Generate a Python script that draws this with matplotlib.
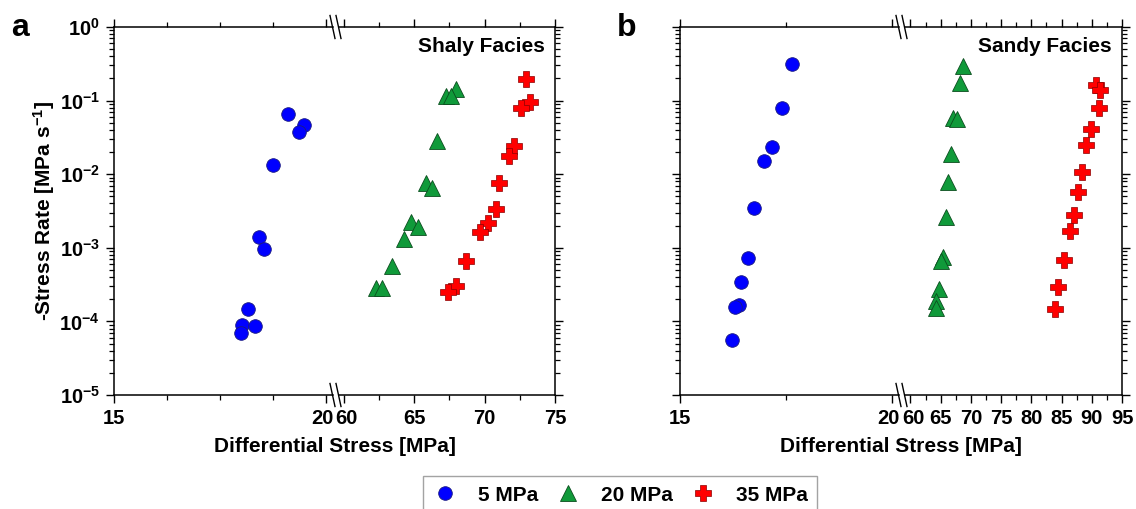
import matplotlib
matplotlib.use('Agg')
import matplotlib.pyplot as plt
from matplotlib.lines import Line2D
from matplotlib.ticker import LogLocator, NullFormatter, FuncFormatter
from matplotlib.transforms import ScaledTranslation
import numpy as np

plt.rcParams['font.family'] = ['Liberation Sans', 'DejaVu Sans']
plt.rcParams['font.weight'] = 'bold'
plt.rcParams['mathtext.fontset'] = 'custom'
plt.rcParams['mathtext.rm'] = 'Liberation Sans:bold'
plt.rcParams['mathtext.bf'] = 'Liberation Sans:bold'
plt.rcParams['mathtext.default'] = 'bf'

##------------------------------------------------------##
# values
# panel a : shaly facies
shaly_5_x = [19.11, 19.48, 19.37, 18.74, 18.42, 18.54, 18.17, 18.01, 18.32, 17.99]
shaly_5_y = [0.066, 0.047, 0.037, 0.0133, 0.00142, 0.00097, 1.46e-4, 8.9e-5, 8.7e-5, 6.9e-5]
shaly_20_x = [67.96, 67.30, 67.65, 66.63, 65.88, 66.30, 64.81, 65.31, 64.26, 63.41, 62.32, 62.75]
shaly_20_y = [0.142, 0.1155, 0.1155, 0.0285, 0.0077, 0.0065, 0.00224, 0.00194, 0.0013,
              5.7e-4, 2.87e-4, 2.87e-4]
shaly_35_x = [72.94, 73.22, 72.56, 72.11, 71.75, 71.0, 70.85, 70.28, 69.67, 68.72, 68.01, 67.44]
shaly_35_y = [0.195, 0.097, 0.079, 0.0244, 0.0177, 0.0075, 0.00333, 0.00215, 0.00166,
              6.6e-4, 3.06e-4, 2.48e-4]

# panel b : sandy facies
sandy_5_x = [17.65, 17.41, 17.17, 16.98, 16.74, 16.60, 16.45, 16.39, 16.29, 16.22]
sandy_5_y = [0.314, 0.079, 0.0236, 0.0153, 0.0035, 7.2e-4, 3.47e-4, 1.67e-4, 1.58e-4, 5.6e-5]
sandy_20_x = [68.70, 68.27, 67.05, 67.71, 66.67, 66.28, 65.84, 65.40, 65.13, 64.74, 64.18, 64.30]
sandy_20_y = [0.295, 0.175, 0.0574, 0.0556, 0.0188, 0.0079, 0.00265, 7.4e-4, 6.7e-4,
              2.73e-4, 1.91e-4, 1.51e-4]
sandy_35_x = [90.76, 91.42, 91.14, 89.81, 88.99, 88.44, 87.72, 87.0, 86.34, 85.35, 84.48, 83.92]
sandy_35_y = [0.163, 0.139, 0.0786, 0.0407, 0.0247, 0.0108, 0.00573, 0.00276, 0.00169,
              6.8e-4, 2.9e-4, 1.46e-4]

labels = ['5 MPa', '20 MPa', '35 MPa']

# marker styles per confining pressure
sty5 = dict(marker='o', ms=9.8, mfc='#0000ff', mec='#1a1a80', mew=0.6, ls='none')
sty20 = dict(marker='^', ms=11.5, mfc='#109a3a', mec='#0b4d1e', mew=0.6, ls='none')
sty35 = dict(marker='P', ms=11.5, mfc='#ff0000', mec='#8a0000', mew=0.5, ls='none')

W, H = 1136, 509
TOP, BOT = 27, 395
FS_TICK = 14.5
FS_LAB = 15


def fx(px):
    return px / W


def fy(py):
    return 1 - py / H


def decade(v, pos):
    return r'$10^{%d}$' % int(round(np.log10(v)))


def fig_line(fig, xs, ys, lw=1.1):
    fig.add_artist(Line2D([fx(x) for x in xs], [fy(y) for y in ys],
                          transform=fig.transFigure, color='black', lw=lw))


def shift_label(fig, tick, dx_px):
    lab = tick.label1
    lab.set_transform(lab.get_transform() + ScaledTranslation(dx_px / 100, 0, fig.dpi_scale_trans))


def make_panel(fig, x0, x1, rmax, lminor, d5, d20, d35, title, letter, lx, ylab):
    h = (BOT - TOP) / H
    ax_l = fig.add_axes([fx(x0), fy(BOT), 212 / W, h])
    ax_r = fig.add_axes([fx(x1 - 211.5), fy(BOT), 211.5 / W, h])

    ax_l.plot(d5[0], d5[1], **sty5)
    ax_r.plot(d20[0], d20[1], **sty20)
    ax_r.plot(d35[0], d35[1], **sty35)

    ax_l.set_xlim(15, 20)
    ax_l.set_xticks([15, 20])
    ax_l.set_xticks(lminor, minor=True)
    ax_r.set_xlim(60, rmax)
    ax_r.set_xticks(np.arange(60, rmax + 1, 5))
    ax_r.set_xticks(np.arange(62.5, rmax, 5), minor=True)

    for ax in (ax_l, ax_r):
        ax.set_yscale('log')
        ax.set_ylim(1e-5, 1)
        ax.yaxis.set_major_locator(LogLocator(base=10, numticks=10))
        ax.yaxis.set_minor_locator(LogLocator(base=10, subs=np.arange(2, 10), numticks=10))
        ax.yaxis.set_minor_formatter(NullFormatter())
        ax.yaxis.set_major_formatter(FuncFormatter(decade))
        ax.tick_params(axis='both', which='major', direction='out', length=6, width=1.0,
                       labelsize=FS_TICK, pad=4)
        ax.tick_params(axis='both', which='minor', direction='out', length=3.5, width=0.9)
        ax.tick_params(axis='x', which='both', top=True, bottom=True, labeltop=False)
        for s in ('top', 'bottom'):
            ax.spines[s].set_visible(False)
        for lab in ax.get_xticklabels() + ax.get_yticklabels():
            lab.set_fontweight('bold')
    ax_l.spines['right'].set_visible(False)
    ax_r.spines['left'].set_visible(False)
    ax_l.spines['left'].set_linewidth(1.1)
    ax_r.spines['right'].set_linewidth(1.1)
    ax_l.tick_params(axis='y', which='both', left=True, right=False, labelleft=ylab)
    ax_r.tick_params(axis='y', which='both', left=False, right=True,
                     labelleft=False, labelright=False)

    # "20" and "60" sit next to the break, nudge them apart
    shift_label(fig, ax_l.xaxis.get_major_ticks()[-1], -4)
    shift_label(fig, ax_r.xaxis.get_major_ticks()[0], 3)

    # frame with the axis break
    xs1, xs2 = x0 + 218.5, x0 + 224.5
    for yy in (TOP, BOT):
        fig_line(fig, [x0, xs1], [yy, yy])
        fig_line(fig, [xs2, x1], [yy, yy])
        for xs in (xs1, xs2):
            fig_line(fig, [xs - 2.5, xs + 2.5], [yy - 11.5, yy + 11.5], lw=1.0)

    fig.text(fx(x1 - 10), fy(46), title, ha='right', va='center',
             fontsize=FS_LAB, fontweight='bold')
    fig.text(fx(lx), fy(28), letter, ha='center', va='center',
             fontsize=23, fontweight='bold')
    fig.text(fx((x0 + x1) / 2), fy(447), 'Differential Stress [MPa]', ha='center',
             va='center', fontsize=FS_LAB, fontweight='bold')
    return ax_l, ax_r


fig = plt.figure(figsize=(W / 100, H / 100), dpi=100)

make_panel(fig, 114, 555, 75, [16.25, 17.5, 18.75],
           (shaly_5_x, shaly_5_y), (shaly_20_x, shaly_20_y), (shaly_35_x, shaly_35_y),
           'Shaly Facies', 'a', 20, True)
make_panel(fig, 680, 1122, 95, [17.5],
           (sandy_5_x, sandy_5_y), (sandy_20_x, sandy_20_y), (sandy_35_x, sandy_35_y),
           'Sandy Facies', 'b', 627, False)

fig.text(fx(44), fy(211), r'-Stress Rate [MPa s$^{-1}$]', rotation=90,
         ha='center', va='center', fontsize=FS_LAB, fontweight='bold')

handles = [Line2D([], [], **sty5), Line2D([], [], **sty20), Line2D([], [], **sty35)]
leg = fig.legend(handles, labels, loc='lower center', bbox_to_anchor=(fx(620), fy(514)),
                 ncol=3, frameon=True, fancybox=False, edgecolor='#8c8c8c',
                 handlelength=1.2, columnspacing=0.85, handletextpad=0.98,
                 borderpad=0.45, borderaxespad=0,
                 prop={'weight': 'bold', 'size': FS_LAB})
leg.get_frame().set_linewidth(1.0)

fig.savefig('out.png', dpi=100)
